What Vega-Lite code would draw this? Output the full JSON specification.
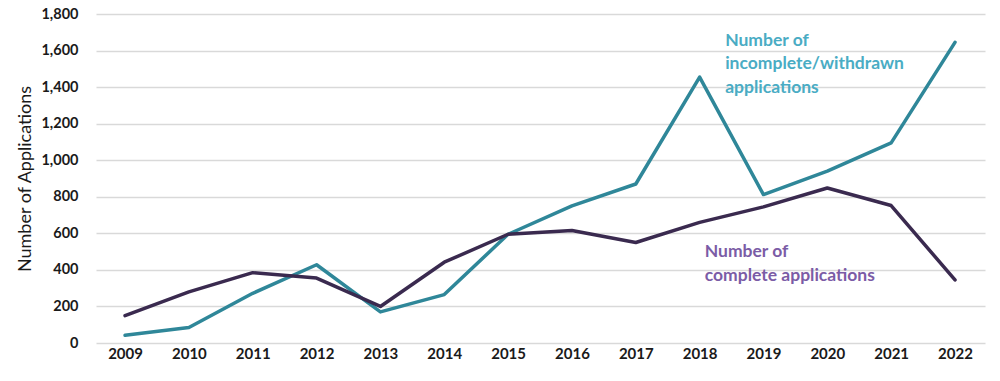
{
  "$schema": "https://vega.github.io/schema/vega-lite/v6.json",
  "width": 889,
  "height": 329,
  "autosize": "none",
  "padding": {"left": 96, "top": 14, "right": 15, "bottom": 38},
  "background": "white",
  "config": {
    "view": {"stroke": null},
    "font": "Lato",
    "axis": {"labelFont": "Lato", "titleFont": "Lato"}
  },
  "datasets": {
    "series": [
      {"year": 2009, "series": "incomplete", "value": 42},
      {"year": 2010, "series": "incomplete", "value": 85},
      {"year": 2011, "series": "incomplete", "value": 272},
      {"year": 2012, "series": "incomplete", "value": 428},
      {"year": 2013, "series": "incomplete", "value": 170},
      {"year": 2014, "series": "incomplete", "value": 265},
      {"year": 2015, "series": "incomplete", "value": 595},
      {"year": 2016, "series": "incomplete", "value": 750},
      {"year": 2017, "series": "incomplete", "value": 870},
      {"year": 2018, "series": "incomplete", "value": 1455},
      {"year": 2019, "series": "incomplete", "value": 812},
      {"year": 2020, "series": "incomplete", "value": 940},
      {"year": 2021, "series": "incomplete", "value": 1095},
      {"year": 2022, "series": "incomplete", "value": 1645},
      {"year": 2009, "series": "complete", "value": 150},
      {"year": 2010, "series": "complete", "value": 280},
      {"year": 2011, "series": "complete", "value": 385},
      {"year": 2012, "series": "complete", "value": 355},
      {"year": 2013, "series": "complete", "value": 200},
      {"year": 2014, "series": "complete", "value": 442},
      {"year": 2015, "series": "complete", "value": 595},
      {"year": 2016, "series": "complete", "value": 616},
      {"year": 2017, "series": "complete", "value": 550},
      {"year": 2018, "series": "complete", "value": 660},
      {"year": 2019, "series": "complete", "value": 745},
      {"year": 2020, "series": "complete", "value": 848},
      {"year": 2021, "series": "complete", "value": 752},
      {"year": 2022, "series": "complete", "value": 345}
    ],
    "labels": [
      {"year": 2018.4, "value": 1625, "series": "incomplete", "label": "Number of\nincomplete/withdrawn\napplications"},
      {"year": 2018.08, "value": 470, "series": "complete", "label": "Number of\ncomplete applications"}
    ]
  },
  "encoding": {
    "x": {
      "field": "year", "type": "quantitative",
      "scale": {"domain": [2008.545, 2022.47], "nice": false, "zero": false},
      "axis": {
        "values": [2009, 2010, 2011, 2012, 2013, 2014, 2015, 2016, 2017, 2018, 2019, 2020, 2021, 2022],
        "tickCount": 30,
        "format": "d", "title": null, "grid": false, "domain": false, "ticks": false,
        "labelOverlap": false,
        "labelFontSize": 15, "labelFontWeight": "bold", "labelColor": "#1a1a1a", "labelPadding": 3
      }
    },
    "y": {
      "field": "value", "type": "quantitative",
      "scale": {"domain": [0, 1800], "nice": false},
      "axis": {
        "values": [0, 200, 400, 600, 800, 1000, 1200, 1400, 1600, 1800],
        "tickCount": 30,
        "format": ",d", "title": "Number of Applications",
        "labelOverlap": false,
        "titleFontSize": 18, "titleFontWeight": "normal", "titleColor": "#1a1a1a", "titlePadding": 6,
        "labelFontSize": 14.5, "labelFontWeight": "bold", "labelColor": "#1a1a1a", "labelPadding": 18,
        "domain": false, "ticks": false,
        "gridColor": "#d9d9d9", "gridWidth": 1.5
      }
    }
  },
  "layer": [
    {
      "data": {"name": "series"},
      "mark": {"type": "line", "strokeWidth": 3.5, "strokeJoin": "round", "strokeCap": "round"},
      "encoding": {
        "color": {
          "field": "series", "type": "nominal",
          "scale": {"domain": ["incomplete", "complete"], "range": ["#2f8799", "#3a2a4f"]},
          "legend": null
        },
        "order": {"field": "year", "type": "quantitative"}
      }
    },
    {
      "data": {"name": "labels"},
      "mark": {"type": "text", "align": "left", "baseline": "alphabetic", "fontSize": 17.5, "fontWeight": "bold", "lineHeight": 23.5, "lineBreak": "\n"},
      "encoding": {
        "text": {"field": "label"},
        "color": {
          "field": "series", "type": "nominal",
          "scale": {"domain": ["incomplete", "complete"], "range": ["#4aacc4", "#7b5ca6"]},
          "legend": null
        }
      }
    }
  ],
  "resolve": {"scale": {"color": "independent"}}
}
